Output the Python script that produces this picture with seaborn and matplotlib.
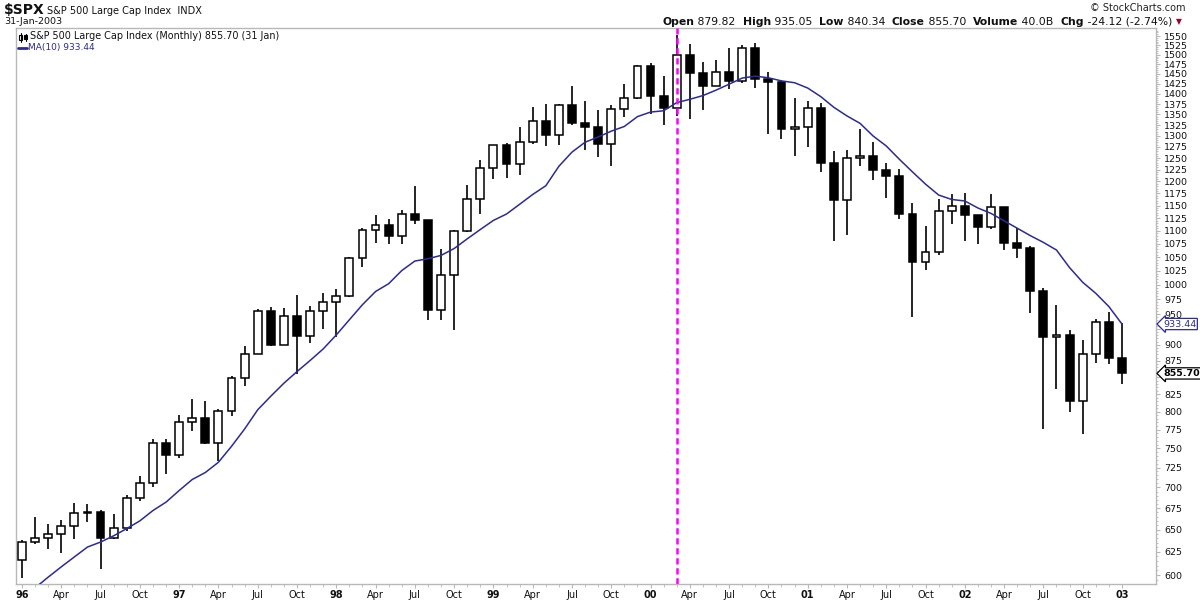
import numpy as np
import pandas as pd
import matplotlib
matplotlib.use('Agg')
import matplotlib.pyplot as plt
import seaborn as sns
from matplotlib.ticker import FixedLocator, NullFormatter, FixedFormatter
from matplotlib.patches import Rectangle
from matplotlib.lines import Line2D

# ---------------- data ----------------
months = pd.date_range('1996-01-01', '2003-01-01', freq='MS')

prior_closes = [514.71, 533.40, 544.75, 562.06, 561.88, 584.41, 581.50, 605.37, 615.93]  # Apr-Dec 1995

opens = [615.93, 636.02, 640.43, 645.50, 654.17, 669.12, 670.63, 639.95, 651.99, 687.31, 705.27, 757.02,
         740.74, 786.16, 790.82, 757.12, 801.34, 848.28, 885.14, 954.29, 899.47, 947.28, 914.62, 955.40,
         970.43, 980.28, 1049.34, 1101.75, 1111.75, 1090.82, 1133.84, 1120.67, 957.28, 1017.01, 1098.67, 1163.63,
         1229.23, 1279.64, 1238.33, 1286.37, 1335.18, 1301.84, 1372.71, 1328.72, 1320.41, 1282.71, 1362.93, 1388.91,
         1469.25, 1394.46, 1366.42, 1498.58, 1452.43, 1420.60, 1454.60, 1430.83, 1517.68, 1436.51, 1429.40, 1314.95,
         1320.28, 1366.01, 1239.94, 1160.33, 1249.46, 1255.82, 1224.38, 1211.23, 1133.58, 1040.94, 1059.78, 1139.45,
         1148.08, 1130.20, 1106.73, 1147.39, 1076.92, 1067.14, 989.82, 911.62, 916.07, 815.28, 885.76, 936.31,
         879.82]
highs = [638.46, 664.23, 656.97, 660.88, 681.10, 680.32, 672.68, 668.61, 690.88, 714.10, 762.12, 761.75,
         794.67, 817.68, 814.90, 804.13, 851.87, 898.70, 957.73, 961.37, 960.46, 983.12, 963.00, 986.25,
         992.65, 1050.00, 1105.65, 1130.52, 1123.95, 1141.83, 1190.58, 1121.50, 1066.10, 1102.00, 1192.97, 1244.93,
         1280.00, 1284.00, 1320.00, 1368.00, 1375.00, 1376.00, 1420.00, 1382.00, 1360.00, 1373.00, 1424.00, 1473.00,
         1478.00, 1444.00, 1553.00, 1527.00, 1481.00, 1485.00, 1517.00, 1525.00, 1530.00, 1454.00, 1431.00, 1389.00,
         1383.00, 1377.00, 1267.00, 1269.00, 1316.00, 1286.00, 1239.00, 1226.00, 1155.00, 1110.00, 1163.00, 1173.00,
         1176.00, 1130.00, 1173.00, 1147.00, 1106.00, 1070.00, 994.00, 965.00, 924.00, 907.00, 941.00, 954.00,
         935.05]
lows = [597.29, 633.71, 627.63, 624.14, 638.80, 658.66, 605.88, 639.70, 648.00, 684.00, 700.00, 716.69,
        737.01, 773.43, 756.13, 733.54, 793.21, 836.36, 885.14, 898.00, 899.47, 855.27, 903.00, 925.00,
        912.83, 979.00, 1032.00, 1076.70, 1074.00, 1074.70, 1114.00, 939.98, 939.98, 923.32, 1098.00, 1133.90,
        1205.00, 1208.00, 1214.00, 1282.00, 1277.00, 1280.00, 1325.00, 1268.00, 1253.00, 1233.00, 1345.00, 1387.00,
        1350.00, 1325.00, 1346.00, 1339.00, 1361.00, 1420.00, 1413.00, 1428.00, 1415.00, 1305.00, 1292.00, 1254.00,
        1274.00, 1220.00, 1081.00, 1091.00, 1232.00, 1203.00, 1165.00, 1124.00, 944.75, 1026.00, 1054.00, 1114.00,
        1081.00, 1074.00, 1104.00, 1063.00, 1048.00, 952.00, 775.68, 833.00, 800.00, 768.63, 872.00, 870.00,
        840.34]
closes = [636.02, 640.43, 645.50, 654.17, 669.12, 670.63, 639.95, 651.99, 687.31, 705.27, 757.02, 740.74,
          786.16, 790.82, 757.12, 801.34, 848.28, 885.14, 954.29, 899.47, 947.28, 914.62, 955.40, 970.43,
          980.28, 1049.34, 1101.75, 1111.75, 1090.82, 1133.84, 1120.67, 957.28, 1017.01, 1098.67, 1163.63, 1229.23,
          1279.64, 1238.33, 1286.37, 1335.18, 1301.84, 1372.71, 1328.72, 1320.41, 1282.71, 1362.93, 1388.91, 1469.25,
          1394.46, 1366.42, 1498.58, 1452.43, 1420.60, 1454.60, 1430.83, 1517.68, 1436.51, 1429.40, 1314.95, 1320.28,
          1366.01, 1239.94, 1160.33, 1249.46, 1255.82, 1224.38, 1211.23, 1133.58, 1040.94, 1059.78, 1139.45, 1148.08,
          1130.20, 1106.73, 1147.39, 1076.92, 1067.14, 989.82, 911.62, 916.07, 815.28, 885.76, 936.31, 879.82,
          855.70]

y_ticks = list(range(600, 1551, 25))
hidden_tick_labels = [850, 925]   # covered by the price tags in the original
marker_month = '2000-03-01'

# ---------------- style ----------------
sns.set_theme(style='white')
plt.rcParams['font.family'] = ['DejaVu Sans']

NAVY = '#2a2a9c'
GRID = '#b8b8b8'

fig = plt.figure(figsize=(12, 6), dpi=100)
fig.patch.set_facecolor('white')
ax = fig.add_axes([16 / 1200, 16 / 600, 1140 / 1200, 556 / 600])
ax.set_facecolor('white')

o = np.array(opens); h = np.array(highs); l = np.array(lows); c = np.array(closes)
x = np.arange(len(months))
up = c >= o
body_lo = np.minimum(o, c)
body_hi = np.maximum(o, c)
body_h = np.maximum(body_hi - body_lo, 0.8)

df = pd.DataFrame({'x': x, 'open': o, 'high': h, 'low': l, 'close': c})
allc = pd.Series(list(prior_closes) + list(closes))
df['ma'] = allc.rolling(10).mean().iloc[len(prior_closes):].to_numpy()

# wicks
ax.vlines(df['x'], df['low'], df['high'], color='black', linewidth=1.2, zorder=2)
# bodies
ax.bar(x[up], body_h[up], bottom=body_lo[up], width=0.6, color='white', edgecolor='black',
       linewidth=1.1, zorder=3)
ax.bar(x[~up], body_h[~up], bottom=body_lo[~up], width=0.6, color='black', edgecolor='black',
       linewidth=1.1, zorder=3)

# moving average
sns.lineplot(data=df, x='x', y='ma', ax=ax, color=NAVY, linewidth=1.1, zorder=4)

# marker line
mi = list(months).index(pd.Timestamp(marker_month))
ax.axvline(mi, color='#ff00ff', linestyle=(0, (2.5, 1.5)), linewidth=1.8, zorder=5)

ax.set_yscale('log')
ax.set_ylim(590.6, 1572)
ax.set_xlim(-0.458, 86.6)
ax.set_xlabel('')
ax.set_ylabel('')

# y axis on the right
ax.yaxis.tick_right()
ax.yaxis.set_major_locator(FixedLocator(y_ticks))
ax.yaxis.set_major_formatter(FixedFormatter(['' if v in hidden_tick_labels else str(v) for v in y_ticks]))
ax.yaxis.set_minor_locator(FixedLocator(list(range(595, 1570, 5))))
ax.yaxis.set_minor_formatter(NullFormatter())
ax.tick_params(axis='y', which='major', right=True, left=False, length=3, width=0.8, color=GRID,
               labelsize=6.8, pad=3, labelcolor='#111111')
ax.tick_params(axis='y', which='minor', right=True, left=False, length=1.5, width=0.6, color=GRID)

# x axis
q_months = [m for m in months if m.month in (1, 4, 7, 10)]
q_idx = [i for i, m in enumerate(months) if m.month in (1, 4, 7, 10)]
q_lab = [m.strftime('%y') if m.month == 1 else m.strftime('%b') for m in q_months]
ax.set_xticks(q_idx)
ax.set_xticklabels(q_lab)
ax.xaxis.set_minor_locator(FixedLocator(list(x)))
ax.tick_params(axis='x', which='major', bottom=True, length=3, width=0.8, color=GRID,
               labelsize=7, pad=1.5, labelcolor='#111111')
ax.tick_params(axis='x', which='minor', bottom=True, length=2, width=0.6, color=GRID)
for t, m in zip(ax.get_xticklabels(), q_months):
    if m.month == 1:
        t.set_fontweight('bold')

for s in ax.spines.values():
    s.set_color(GRID)
    s.set_linewidth(1.0)
ax.spines['right'].set_linestyle((0, (1, 1)))

# price tags on the right axis
last_ma = df['ma'].iloc[-1]
last_c = closes[-1]
ax.annotate(f'{last_ma:.2f}', xy=(1.0, last_ma), xycoords=('axes fraction', 'data'),
            xytext=(5, 0), textcoords='offset points', va='center', ha='left', fontsize=6.8,
            color=NAVY, bbox=dict(boxstyle='larrow,pad=0.12', fc='white', ec=NAVY, lw=0.9),
            annotation_clip=False, zorder=10)
ax.annotate(f'{last_c:.2f}', xy=(1.0, last_c), xycoords=('axes fraction', 'data'),
            xytext=(5, 0), textcoords='offset points', va='center', ha='left', fontsize=6.8,
            fontweight='bold', color='black',
            bbox=dict(boxstyle='larrow,pad=0.12', fc='white', ec='black', lw=0.9),
            annotation_clip=False, zorder=10)

# ---------------- header texts ----------------
W, H = 1200.0, 600.0
def fx(px):
    return px / W
def fy(py):
    return 1 - py / H

fig.text(fx(4), fy(10), '$SPX', fontsize=10, fontweight='bold', va='center', ha='left',
         parse_math=False, color='#111111')
fig.text(fx(47), fy(10.5), 'S&P 500 Large Cap Index  INDX', fontsize=7, va='center', ha='left',
         parse_math=False, color='#111111')
fig.text(fx(4), fy(22), '31-Jan-2003', fontsize=6.8, va='center', ha='left', color='#111111')
fig.text(fx(1185), fy(8), '\u00a9 StockCharts.com', fontsize=7, va='center', ha='right', color='#222222')

renderer = fig.canvas.get_renderer()
pieces = [('Open', True), (' 879.82  ', False), ('High', True), (' 935.05  ', False),
          ('Low', True), (' 840.34  ', False), ('Close', True), (' 855.70  ', False),
          ('Volume', True), (' 40.0B  ', False), ('Chg', True), (' -24.12 (-2.74%) ', False)]
cur = 1176.0
fig.text(fx(cur), fy(22), '\u25bc', fontsize=5.5, va='center', ha='left', color='#990033')
for txt, bold in reversed(pieces):
    t = fig.text(fx(cur), fy(22), txt, fontsize=7.8, va='center', ha='right',
                 fontweight='bold' if bold else 'normal', color='#111111')
    bb = t.get_window_extent(renderer=renderer)
    cur -= bb.width

# legend inside the plot
ax.add_patch(Rectangle((fx(19), fy(40)), 3 / W, 5 / H, transform=fig.transFigure, fc='white',
                       ec='black', lw=0.8, zorder=10))
ax.add_patch(Rectangle((fx(24), fy(39)), 3 / W, 4 / H, transform=fig.transFigure, fc='black',
                       ec='black', lw=0.8, zorder=10))
fig.lines.append(Line2D([fx(20.5), fx(20.5)], [fy(42), fy(33)], transform=fig.transFigure,
                        color='black', lw=0.8))
fig.lines.append(Line2D([fx(25.5), fx(25.5)], [fy(41), fy(34)], transform=fig.transFigure,
                        color='black', lw=0.8))
fig.text(fx(30), fy(36), 'S&P 500 Large Cap Index (Monthly) 855.70 (31 Jan)', fontsize=6.9,
         va='center', ha='left', color='#111111')
fig.lines.append(Line2D([fx(18), fx(27)], [fy(47.5), fy(47.5)], transform=fig.transFigure,
                        color=NAVY, lw=2))
fig.text(fx(28), fy(47.5), f'MA(10) {last_ma:.2f}', fontsize=6.5, va='center', ha='left', color=NAVY)

fig.savefig('out.png', dpi=100, facecolor='white')
